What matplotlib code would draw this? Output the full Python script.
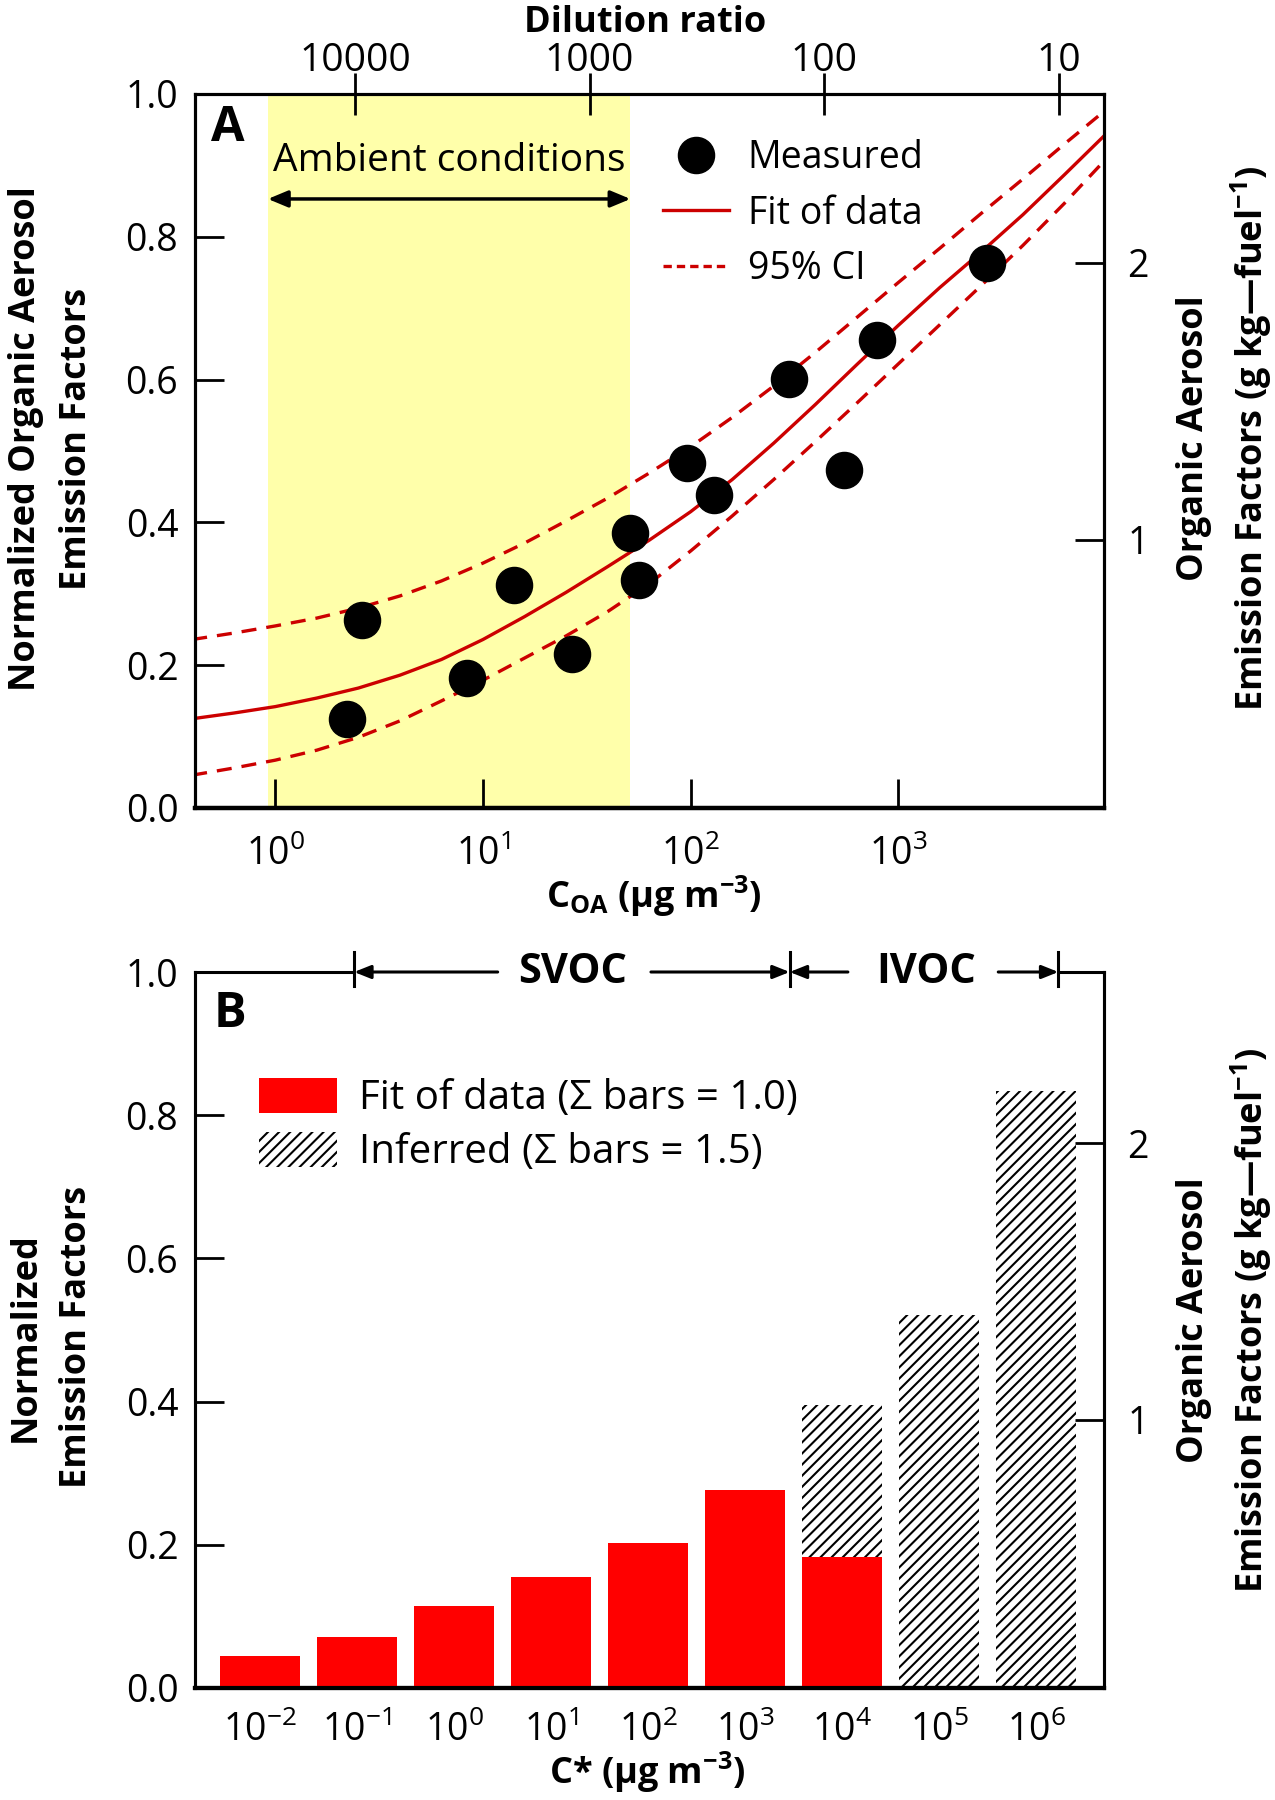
import numpy as np
import matplotlib
matplotlib.use("Agg")
import matplotlib.pyplot as plt
from matplotlib.lines import Line2D
from matplotlib.patches import Patch
from matplotlib.ticker import NullLocator

plt.rcParams['font.family'] = ['Open Sans', 'DejaVu Sans']
plt.rcParams['mathtext.fontset'] = 'custom'
plt.rcParams['mathtext.rm'] = 'Open Sans'
plt.rcParams['mathtext.bf'] = 'Open Sans:bold'
plt.rcParams['mathtext.it'] = 'Open Sans:italic'
plt.rcParams['hatch.linewidth'] = 1.5

# Panel A - measured points (C_OA in ug m-3, normalized EF)
coa_measured = [2.21, 2.61, 8.35, 14.1, 26.7, 51.3, 56.7, 96.5, 130, 299, 549, 791, 2676]
ef_measured = [0.124, 0.263, 0.182, 0.312, 0.215, 0.385, 0.320, 0.483, 0.438, 0.601, 0.474, 0.656, 0.764]

# curves at these C_OA values
coa_grid = [0.398, 0.631, 1.0, 1.585, 2.512, 3.981, 6.31, 10, 15.85, 25.12, 39.81, 63.1,
            100, 158.5, 251.2, 398.1, 631, 1000, 1585, 2512, 3981, 6310, 10000]
fit_ef = [0.125, 0.133, 0.142, 0.154, 0.168, 0.186, 0.208, 0.236, 0.268, 0.302, 0.338, 0.375,
          0.415, 0.460, 0.511, 0.565, 0.621, 0.676, 0.729, 0.779, 0.831, 0.887, 0.944]
ci_up_ef = [0.236, 0.245, 0.255, 0.266, 0.280, 0.297, 0.318, 0.343, 0.371, 0.402, 0.434, 0.469,
            0.506, 0.547, 0.591, 0.638, 0.687, 0.736, 0.784, 0.833, 0.881, 0.930, 0.978]
ci_lo_ef = [0.046, 0.056, 0.067, 0.081, 0.099, 0.122, 0.150, 0.179, 0.210, 0.241, 0.275, 0.314,
            0.360, 0.409, 0.460, 0.513, 0.567, 0.622, 0.677, 0.732, 0.788, 0.847, 0.909]

ambient_range = (0.921, 51.3)
dilution_ticks = [10000, 1000, 100, 10]

# Panel B - volatility bins
cstar_exp = [-2, -1, 0, 1, 2, 3, 4, 5, 6]
fit_bars = [0.045, 0.071, 0.115, 0.155, 0.202, 0.277, 0.183]
inferred_bars = [0.395, 0.521, 0.834]

red_line = '#CC0000'

fig = plt.figure(figsize=(12.75, 18), dpi=100)
axA = fig.add_axes([195/1275, 1-808/1800, 909/1275, 714/1800])
axB = fig.add_axes([195/1275, 1-1688/1800, 909/1275, 716/1800])

# ---------- Panel A ----------
axA.axvspan(*ambient_range, color='#FFFFAA', lw=0, zorder=0)
axA.plot(coa_grid, ci_up_ef, color=red_line, lw=2.4, dashes=(4.5, 3), zorder=2)
axA.plot(coa_grid, ci_lo_ef, color=red_line, lw=2.4, dashes=(4.5, 3), zorder=2)
axA.plot(coa_grid, fit_ef, color=red_line, lw=2.4, zorder=2)
axA.plot(coa_measured, ef_measured, 'o', color='black', ms=26, zorder=3)

axA.set_xscale('log')
axA.set_xlim(0.4105, 9779)
axA.set_ylim(0, 1)
axA.set_xticks([1, 10, 100, 1000])
axA.set_xticklabels([r'$10^{0}$', r'$10^{1}$', r'$10^{2}$', r'$10^{3}$'])
axA.xaxis.set_minor_locator(NullLocator())
axA.set_yticks([0, 0.2, 0.4, 0.6, 0.8, 1.0])
axA.set_yticklabels(['0.0', '0.2', '0.4', '0.6', '0.8', '1.0'])
axA.tick_params(direction='in', length=21, width=2, labelsize=27)
axA.tick_params(axis='x', pad=20, labelsize=27)
axA.tick_params(axis='y', pad=12)

axA.annotate('', xy=(ambient_range[0], 0.853), xytext=(ambient_range[1], 0.853),
             arrowprops=dict(arrowstyle='<|-|>,head_length=0.6,head_width=0.25', color='k',
                             lw=2.5, shrinkA=0, shrinkB=0, mutation_scale=20))
axA.text(np.sqrt(ambient_range[0]*ambient_range[1]), 0.906, 'Ambient conditions',
         ha='center', va='center', fontsize=28)
axA.text(0.036, 0.952, 'A', transform=axA.transAxes, fontsize=35, fontweight='bold',
         ha='center', va='center')

handles = [Line2D([], [], marker='o', ls='none', color='black', ms=26),
           Line2D([], [], color=red_line, lw=2.4),
           Line2D([], [], color=red_line, lw=2.4, dashes=(2.5, 1.5))]
axA.legend(handles, ['Measured', 'Fit of data', '95% CI'], loc='upper left',
           bbox_to_anchor=(0.515, 0.937), frameon=False, fontsize=27, handlelength=1.75,
           handletextpad=0.5, labelspacing=0.47, borderpad=0, borderaxespad=0)

axT = axA.twiny()
axT.set_xscale('log')
axT.set_xlim(47970, 6.435)
axT.set_xticks(dilution_ticks)
axT.set_xticklabels([str(d) for d in dilution_ticks])
axT.xaxis.set_minor_locator(NullLocator())
axT.tick_params(direction='inout', length=30, width=2, labelsize=28, pad=-5)
axA.text(0.495, 1.100, 'Dilution ratio', transform=axA.transAxes, fontsize=26,
         fontweight='bold', ha='center', va='center')

axR = axA.twinx()
axR.set_ylim(0.03, 2.61)
axR.set_yticks([1, 2])
axR.set_yticklabels(['1', '2'])
axR.tick_params(direction='in', length=21, width=2, labelsize=27, pad=17)

axA.text(-0.158, 0.517, 'Normalized Organic Aerosol\nEmission Factors', transform=axA.transAxes,
         rotation=90, ha='center', va='center', multialignment='center', fontsize=26,
         fontweight='bold', linespacing=1.55)
axA.text(1.133, 0.518, 'Organic Aerosol\nEmission Factors (g kg\u2014fuel$^{\\mathbf{-1}}$)',
         transform=axA.transAxes, rotation=90, ha='center', va='center',
         multialignment='center', fontsize=26, fontweight='bold', linespacing=1.5)
axA.text(0.505, -0.124, r'$\mathbf{C_{OA}}$ (µg m$^{\mathbf{-3}}$)', transform=axA.transAxes,
         ha='center', va='center', fontsize=26, fontweight='bold')

for ax in (axA, axT, axR):
    for s in ax.spines.values():
        s.set_linewidth(2.2)
    ax.spines['bottom'].set_linewidth(3)

# ---------- Panel B ----------
pos = np.arange(len(cstar_exp))
axB.bar(pos[6:], inferred_bars, width=0.82, color='white', edgecolor='black',
        hatch='///', linewidth=0, zorder=2)
axB.bar(pos[:7], fit_bars, width=0.82, color='#FF0000', linewidth=0, zorder=3)

axB.set_xlim(-0.67, 8.70)
axB.set_ylim(0, 1)
axB.set_xticks(pos)
axB.set_xticklabels([r'$10^{%d}$' % e for e in cstar_exp])
axB.set_yticks([0, 0.2, 0.4, 0.6, 0.8, 1.0])
axB.set_yticklabels(['0.0', '0.2', '0.4', '0.6', '0.8', '1.0'])
axB.tick_params(direction='in', length=21, width=2, labelsize=27)
axB.tick_params(axis='x', length=0, pad=17, labelsize=27)
axB.tick_params(axis='y', pad=12)
axB.spines['top'].set_visible(False)

# top band with SVOC / IVOC ranges
tr = axB.get_xaxis_transform()
kw = dict(color='black', lw=2.2, transform=tr, clip_on=False)
axB.plot([-0.67, 0.97], [1, 1], **kw)
axB.plot([8.23, 8.70], [1, 1], **kw)
for xt in (0.97, 5.46, 8.23):
    axB.plot([xt, xt], [0.980, 1.028], **kw)
arrow = dict(arrowstyle='-|>,head_length=0.5,head_width=0.2', color='k', lw=2.2,
             shrinkA=0, shrinkB=0, mutation_scale=20)
for start, end in [(2.45, 0.97), (4.03, 5.46), (6.06, 5.46), (7.61, 8.23)]:
    axB.annotate('', xy=(end, 1), xytext=(start, 1), xycoords=tr, textcoords=tr,
                 arrowprops=arrow, annotation_clip=False)
axB.text(3.22, 1.0, 'SVOC', transform=tr, ha='center', va='center', fontsize=30,
         fontweight='bold')
axB.text(6.87, 1.0, 'IVOC', transform=tr, ha='center', va='center', fontsize=30,
         fontweight='bold')

axB.text(0.0385, 0.94, 'B', transform=axB.transAxes, fontsize=35, fontweight='bold',
         ha='center', va='center')

bhandles = [Patch(facecolor='#FF0000', linewidth=0),
            Patch(facecolor='white', edgecolor='black', hatch='///', linewidth=0)]
axB.legend(bhandles, ['Fit of data (\u03a3 bars = 1.0)', 'Inferred (\u03a3 bars = 1.5)'],
           loc='upper left', bbox_to_anchor=(0.07, 0.852), frameon=False, fontsize=29,
           handlelength=1.95, handleheight=0.97, handletextpad=0.55, labelspacing=0.3,
           borderpad=0, borderaxespad=0)

axBR = axB.twinx()
axBR.set_ylim(0.03, 2.62)
axBR.set_yticks([1, 2])
axBR.set_yticklabels(['1', '2'])
axBR.tick_params(direction='in', length=21, width=2, labelsize=27, pad=17)
axBR.spines['top'].set_visible(False)

axB.text(-0.158, 0.49, 'Normalized\nEmission Factors', transform=axB.transAxes,
         rotation=90, ha='center', va='center', multialignment='center', fontsize=26,
         fontweight='bold', linespacing=1.55)
axB.text(1.133, 0.514, 'Organic Aerosol\nEmission Factors (g kg\u2014fuel$^{\\mathbf{-1}}$)',
         transform=axB.transAxes, rotation=90, ha='center', va='center',
         multialignment='center', fontsize=26, fontweight='bold', linespacing=1.5)
axB.text(0.498, -0.118, r'C* (µg m$^{\mathbf{-3}}$)', transform=axB.transAxes,
         ha='center', va='center', fontsize=26, fontweight='bold')

for ax in (axB, axBR):
    for s in ax.spines.values():
        s.set_linewidth(2.2)
    ax.spines['bottom'].set_linewidth(3)

fig.savefig('out.png', dpi=100)
